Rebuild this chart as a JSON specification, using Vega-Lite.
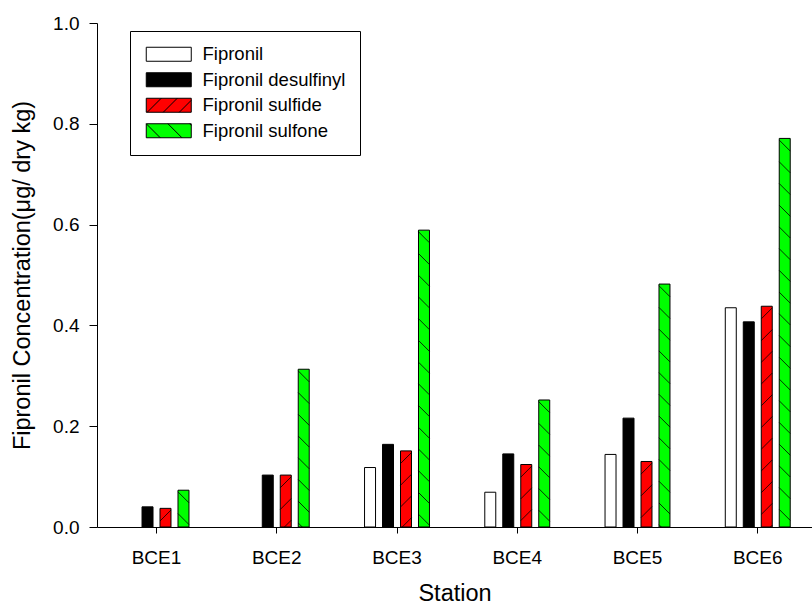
{
  "$schema": "https://vega.github.io/schema/vega-lite/v6.json",
  "width": 715,
  "height": 504,
  "autosize": {"type": "none"},
  "padding": {"left": 97, "top": 23, "right": 0, "bottom": 80},
  "background": "white",
  "config": {
    "font": "Liberation Sans",
    "view": {"stroke": null},
    "axis": {"domainColor": "black", "tickColor": "black", "labelColor": "black", "titleColor": "black", "labelFont": "Liberation Sans", "titleFont": "Liberation Sans", "titleFontWeight": "normal", "grid": false, "domainWidth": 1, "tickWidth": 1}
  },
  "data": {
    "values": [
      {"station": "BCE1", "compound": "Fipronil", "value": 0},
      {"station": "BCE1", "compound": "Fipronil desulfinyl", "value": 0.040},
      {"station": "BCE1", "compound": "Fipronil sulfide", "value": 0.037},
      {"station": "BCE1", "compound": "Fipronil sulfone", "value": 0.073},
      {"station": "BCE2", "compound": "Fipronil", "value": 0},
      {"station": "BCE2", "compound": "Fipronil desulfinyl", "value": 0.103},
      {"station": "BCE2", "compound": "Fipronil sulfide", "value": 0.103},
      {"station": "BCE2", "compound": "Fipronil sulfone", "value": 0.313},
      {"station": "BCE3", "compound": "Fipronil", "value": 0.118},
      {"station": "BCE3", "compound": "Fipronil desulfinyl", "value": 0.164},
      {"station": "BCE3", "compound": "Fipronil sulfide", "value": 0.151},
      {"station": "BCE3", "compound": "Fipronil sulfone", "value": 0.589},
      {"station": "BCE4", "compound": "Fipronil", "value": 0.069},
      {"station": "BCE4", "compound": "Fipronil desulfinyl", "value": 0.145},
      {"station": "BCE4", "compound": "Fipronil sulfide", "value": 0.124},
      {"station": "BCE4", "compound": "Fipronil sulfone", "value": 0.252},
      {"station": "BCE5", "compound": "Fipronil", "value": 0.144},
      {"station": "BCE5", "compound": "Fipronil desulfinyl", "value": 0.216},
      {"station": "BCE5", "compound": "Fipronil sulfide", "value": 0.130},
      {"station": "BCE5", "compound": "Fipronil sulfone", "value": 0.482},
      {"station": "BCE6", "compound": "Fipronil", "value": 0.435},
      {"station": "BCE6", "compound": "Fipronil desulfinyl", "value": 0.407},
      {"station": "BCE6", "compound": "Fipronil sulfide", "value": 0.438},
      {"station": "BCE6", "compound": "Fipronil sulfone", "value": 0.771}
    ]
  },
  "encoding": {
    "x": {
      "field": "station", "type": "nominal", "title": "Station",
      "scale": {"domain": ["BCE1", "BCE2", "BCE3", "BCE4", "BCE5", "BCE6"], "paddingInner": 0.46, "paddingOuter": 0.203, "align": 0.554},
      "axis": {"labelAngle": 0, "labelFontSize": 19, "titleFontSize": 23.5, "tickSize": 6, "labelPadding": 15, "titlePadding": 14}
    },
    "xOffset": {
      "field": "compound", "type": "nominal",
      "scale": {"domain": ["Fipronil", "Fipronil desulfinyl", "Fipronil sulfide", "Fipronil sulfone"], "paddingInner": 0.389, "paddingOuter": 0}
    },
    "y": {
      "field": "value", "type": "quantitative", "title": "Fipronil Concentration(μg/ dry kg)",
      "scale": {"domain": [0, 1], "nice": false},
      "axis": {"values": [0, 0.2, 0.4, 0.6, 0.8, 1.0], "format": ".1f", "labelFontSize": 19, "titleFontSize": 23.5, "tickSize": 8, "labelPadding": 10, "titlePadding": 18}
    }
  },
  "layer": [
    {
      "transform": [{"filter": "datum.value > 0"}],
      "mark": {"type": "bar", "stroke": "black", "strokeWidth": 1, "opacity": 1},
      "encoding": {
        "color": {
          "field": "compound", "type": "nominal",
          "scale": {"domain": ["Fipronil", "Fipronil desulfinyl", "Fipronil sulfide", "Fipronil sulfone"], "range": ["#ffffff", "#000000", "#ff0000", "#00ff00"]},
          "legend": {
            "title": null, "orient": "none", "legendX": 33, "legendY": 8,
            "direction": "vertical",
            "strokeColor": "black", "padding": 14,
            "labelFontSize": 18.5, "labelColor": "black", "labelFont": "Liberation Sans",
            "symbolSize": 196, "symbolStrokeColor": "black", "symbolStrokeWidth": 1, "symbolOpacity": 1,
            "labelOffset": 40, "rowPadding": 6.5,
            "symbolType": "M-1,-1H5.43V1H-1Z",
            "encode": {
              "symbols": {
                "update": {
                  "shape": {"signal": "datum.value === 'Fipronil sulfide' ? 'M-1,-1H5.43V1H-1ZM-0.86,1L1.14,-1M1.43,1L3.43,-1M3.72,1L5.43,-0.71' : datum.value === 'Fipronil sulfone' ? 'M-1,-1H5.43V1H-1ZM-1,-1L1,1M2.1,-1L4.1,1M5.2,-1L5.43,-0.77' : 'M-1,-1H5.43V1H-1Z'"}
                }
              }
            }
          }
        }
      }
    },
    {
      "transform": [{"filter": "datum.compound === 'Fipronil sulfide'"}],
      "mark": {"type": "point", "filled": false, "stroke": "black", "strokeWidth": 0.8, "opacity": 1, "size": 121, "clip": true,
        "shape": "M-1,2.3L1,0.3M-1,6.25L1,4.25M-1,10.2L1,8.2M-1,14.15L1,12.15M-1,18.1L1,16.1M-1,22.05L1,20.05M-1,26L1,24M-1,29.95L1,27.95M-1,33.9L1,31.9M-1,37.85L1,35.85M-1,41.8L1,39.8M-1,45.75L1,43.75"}
    },
    {
      "transform": [{"filter": "datum.compound === 'Fipronil sulfone'"}],
      "mark": {"type": "point", "filled": false, "stroke": "black", "strokeWidth": 0.8, "opacity": 1, "size": 121, "clip": true,
        "shape": "M-1,0.3L1,2.3M-1,4.25L1,6.25M-1,8.2L1,10.2M-1,12.15L1,14.15M-1,16.1L1,18.1M-1,20.05L1,22.05M-1,24L1,26M-1,27.95L1,29.95M-1,31.9L1,33.9M-1,35.85L1,37.85M-1,39.8L1,41.8M-1,43.75L1,45.75M-1,47.7L1,49.7M-1,51.65L1,53.65M-1,55.6L1,57.6M-1,59.55L1,61.55M-1,63.5L1,65.5M-1,67.45L1,69.45M-1,71.4L1,73.4"}
    }
  ]
}
